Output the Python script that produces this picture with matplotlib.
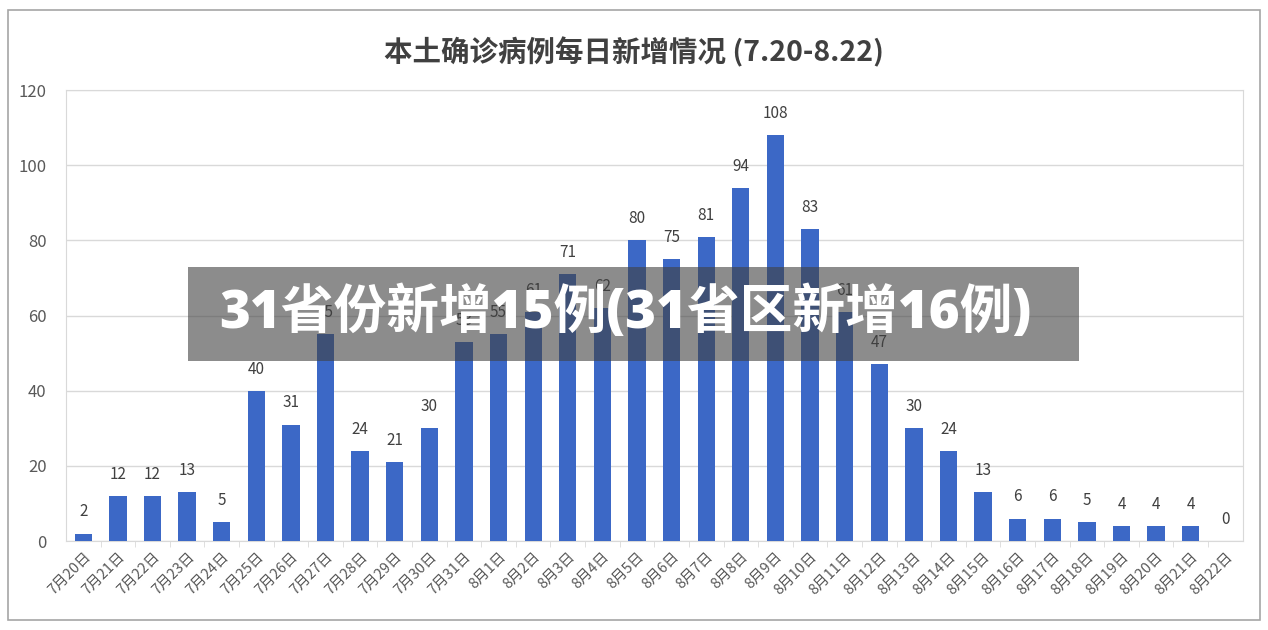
import numpy as np
import matplotlib.pyplot as plt
from matplotlib.patches import Rectangle

plt.rcParams['font.family'] = ['Noto Sans CJK SC', 'DejaVu Sans']

dates = ["7月20日", "7月21日", "7月22日", "7月23日", "7月24日", "7月25日", "7月26日",
         "7月27日", "7月28日", "7月29日", "7月30日", "7月31日", "8月1日", "8月2日",
         "8月3日", "8月4日", "8月5日", "8月6日", "8月7日", "8月8日", "8月9日",
         "8月10日", "8月11日", "8月12日", "8月13日", "8月14日", "8月15日", "8月16日",
         "8月17日", "8月18日", "8月19日", "8月20日", "8月21日", "8月22日"]
cases = [2, 12, 12, 13, 5, 40, 31, 55, 24, 21, 30, 53, 55, 61, 71, 62, 80, 75, 81,
         94, 108, 83, 61, 47, 30, 24, 13, 6, 6, 5, 4, 4, 4, 0]

title = "本土确诊病例每日新增情况 (7.20-8.22)"
banner = "31省份新增15例(31省区新增16例)"

fig = plt.figure(figsize=(12.68, 6.3), dpi=100)
ax = fig.add_axes([0.052, 0.141, 0.928, 0.716])

x = np.arange(len(dates))
ax.bar(x, cases, width=0.5, color="#3C68C6", zorder=3)
for xi, v in zip(x, cases):
    ax.text(xi, v + 3.5, str(v), ha="center", va="bottom", fontsize=11, color="#404040")

ax.set_xlim(-0.5, len(dates) - 0.5)
ax.set_ylim(0, 120)
ax.set_yticks(range(0, 121, 20))
ax.yaxis.grid(True, color="#d9d9d9", lw=1, zorder=0)
ax.set_xticks(x)
ax.set_xticklabels(dates, rotation=45, ha="right", rotation_mode="anchor", fontsize=10.5, color="#595959")
ax.tick_params(axis="x", length=0, pad=6)
ax.tick_params(axis="y", length=0, labelsize=12, labelcolor="#595959", pad=14)
ax.set_xticks(x[:-1] + 0.5, minor=True)
ax.tick_params(axis="x", which="minor", length=4, color="#d9d9d9")
for s in ax.spines.values():
    s.set_color("#d9d9d9")

fig.text(0.5, 0.917, title, ha="center", va="center", fontsize=20.5, fontweight="bold", color="#404040")

# outer frame
fig.patches.append(Rectangle((8 / 1268, 10 / 630), 1252 / 1268, 610 / 630, transform=fig.transFigure,
                             fill=False, ec="#a6a6a6", lw=1.2))

# overlay banner
fig.patches.append(Rectangle((188 / 1268, (630 - 361) / 630), 891 / 1268, 94 / 630,
                             transform=fig.transFigure, fc=(0.25, 0.25, 0.25, 0.6), ec="none", zorder=10))
fig.text(219 / 1268, (630 - 314) / 630, banner, ha="left", va="center", fontsize=38,
         fontweight="heavy", color="white", zorder=11, family=['Open Sans', 'Noto Sans CJK SC'])

fig.savefig("out.png", dpi=100)
